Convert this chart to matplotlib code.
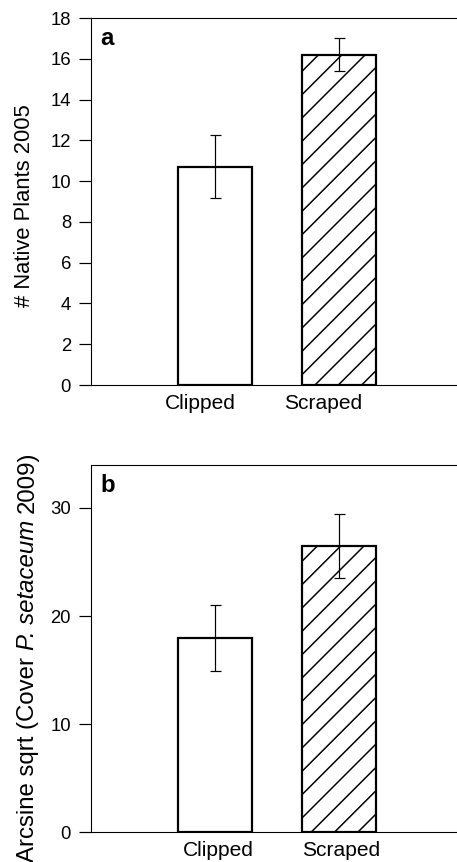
import matplotlib
matplotlib.use('Agg')
import matplotlib.pyplot as plt
from matplotlib.transforms import offset_copy

# data
treatments = ['Clipped', 'Scraped']
native_2005 = [10.7, 16.2]
native_2005_err = [1.55, 0.8]
cover_2009 = [18.0, 26.5]
cover_2009_err = [3.05, 2.95]
hatches = ['', '//']

# hatch spacing is tied to dpi, 140 gives the spacing of the original
DPI = 140


def px(p):
    # pixels -> points at this dpi
    return p * 72.0 / DPI


plt.rcParams['font.family'] = ['Liberation Sans', 'DejaVu Sans']
plt.rcParams['hatch.linewidth'] = px(1.5)
plt.rcParams['axes.linewidth'] = px(1.1)

fig = plt.figure(figsize=(457 / DPI, 862 / DPI), dpi=DPI)
ax_a = fig.add_axes([91 / 457, 1 - 385 / 862, 372 / 457, 367 / 862])
ax_b = fig.add_axes([91 / 457, 1 - 832.3 / 862, 372 / 457, 367.6 / 862])


def draw_panel(ax, values, errs, ylim, yticks, letter, label_pos):
    pos = [1, 2]
    for x, v, e, h in zip(pos, values, errs, hatches):
        ax.bar(x, v, width=0.6, facecolor='white', edgecolor='black',
               linewidth=px(2.2), hatch=h, zorder=2)
        ax.errorbar(x, v, yerr=e, color='black', linewidth=px(1.2),
                    capsize=px(5.5), capthick=px(1.2), zorder=3)
    ax.set_xlim(0, 3)
    ax.set_ylim(*ylim)
    ax.set_yticks(yticks)
    ax.set_xticks(label_pos)
    ax.set_xticklabels(treatments, fontsize=px(21))
    ax.tick_params(axis='x', length=0, pad=px(9))
    ax.tick_params(axis='y', direction='out', length=px(12), width=px(1.2),
                   labelsize=px(18.5), pad=px(8))
    ax.text(0.025, 0.975, letter, transform=ax.transAxes, fontsize=px(24),
            fontweight='bold', ha='left', va='top')


draw_panel(ax_a, native_2005, native_2005_err, (0, 18), range(0, 19, 2), 'a',
           [0.88, 1.87])
draw_panel(ax_b, cover_2009, cover_2009_err, (0, 34), [0, 10, 20, 30], 'b',
           [1.03, 2.02])

ax_a.set_ylabel('# Native Plants 2005', fontsize=px(22))
ax_a.yaxis.set_label_coords(-0.15, 0.49)

# panel b label: roman + italic species name, stacked along the left edge
renderer = fig.canvas.get_renderer()
em_b = 24.0
pieces = [('Arcsine sqrt (Cover', 'normal'), ('P. setaceum', 'italic'), ('2009)', 'normal')]
y = 0.5
for txt, style in pieces:
    tr = offset_copy(fig.transFigure, fig=fig, x=34, y=y, units='dots')
    t = fig.text(0, 0, txt, transform=tr, rotation=90, rotation_mode='anchor',
                 ha='left', va='baseline', fontsize=px(em_b), fontstyle=style)
    y += t.get_window_extent(renderer).height + 0.278 * em_b

fig.savefig('out.png', dpi=DPI)
